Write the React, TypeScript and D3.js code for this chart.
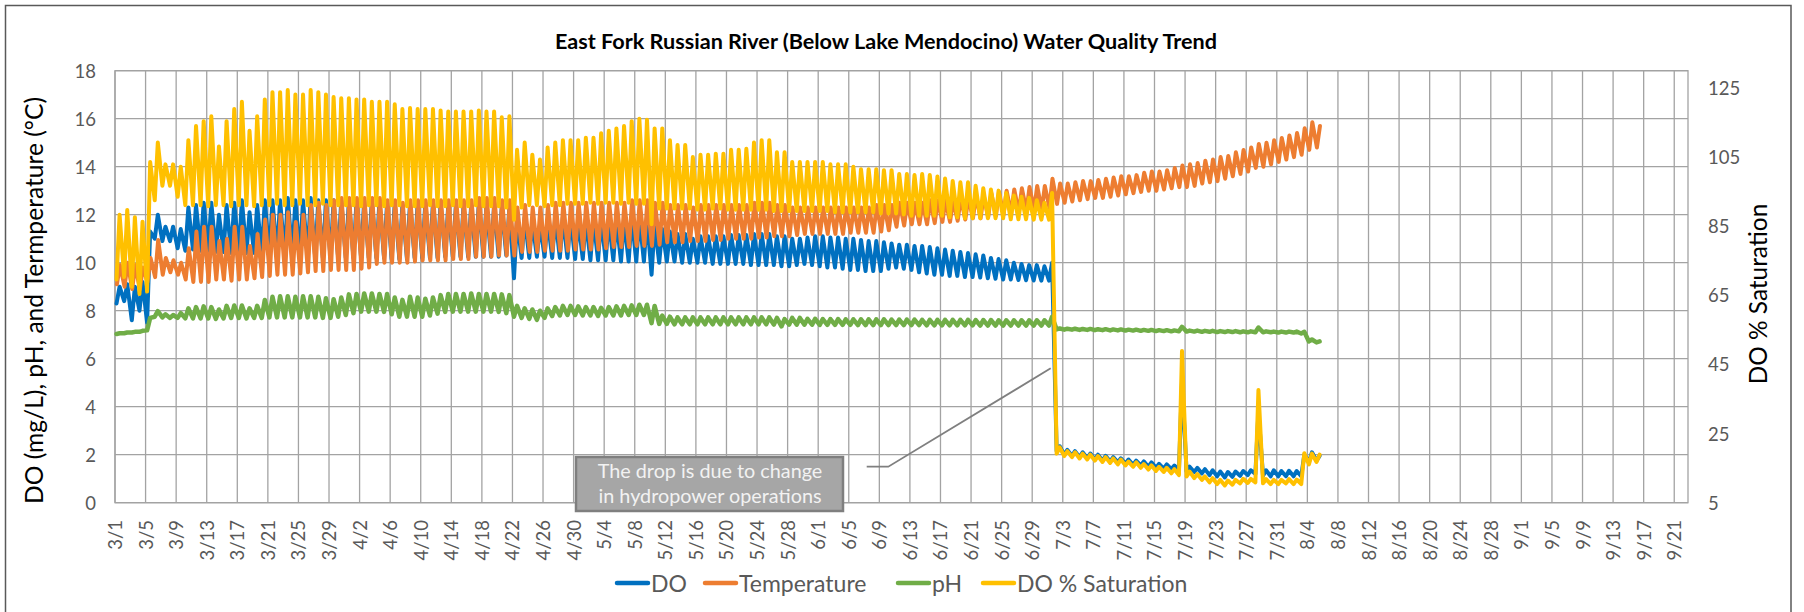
import React from 'react';
import * as d3 from 'd3';

// ---------- DATA (daily max / min, day 0 = 3/1) ----------
const START = Date.UTC(2019, 2, 1);
const DAY = 86400000;

const doMax = [
  9.0, 9.1, 9.0, 9.2, 11.3, 12.0, 11.5, 11.5, 11.4, 12.3,
  12.4, 12.5, 12.5, 12.0, 12.4, 12.5, 12.6, 12.1, 12.4, 12.6,
  12.6, 12.6, 12.7, 12.6, 12.6, 12.7, 12.6, 12.6, 12.6, 12.6,
  12.6, 12.6, 12.6, 12.6, 12.6, 12.5, 12.5, 12.4, 12.5, 12.5,
  12.5, 12.5, 12.5, 12.4, 12.4, 12.4, 12.4, 12.5, 12.4, 12.4,
  12.3, 12.3, 11.8, 11.9, 11.7, 11.6, 11.8, 11.9, 11.9, 11.9,
  11.8, 11.8, 11.8, 11.8, 11.8, 11.8, 11.8, 11.9, 11.9, 11.9,
  11.6, 11.4, 11.3, 11.2, 11.2, 11.0, 11.1, 11.1, 11.1, 11.1,
  11.15, 11.15, 11.15, 11.2, 11.2, 11.2, 11.1, 11.1, 11.0, 11.0,
  11.05, 11.1, 11.1, 11.05, 11.05, 11.0, 11.0, 10.95, 10.9, 10.9,
  10.85, 10.8, 10.75, 10.75, 10.7, 10.7, 10.65, 10.6, 10.55, 10.5,
  10.45, 10.4, 10.35, 10.3, 10.2, 10.15, 10.1, 10.0, 9.95, 9.9,
  9.9, 9.85, 10.0, 2.35, 2.2, 2.15, 2.1, 2.05, 2.0, 1.95,
  1.9, 1.85, 1.8, 1.75, 1.72, 1.68, 1.62, 1.6, 1.55, 5.04,
  1.5, 1.45, 1.4, 1.35, 1.3, 1.28, 1.3, 1.32, 1.35, 3.8,
  1.35, 1.35, 1.32, 1.33, 1.32, 2.0, 2.1, 1.95,
];
const doMin = [
  8.3, 8.4, 7.6, 8.0, 7.5, 11.0, 10.9, 10.9, 10.6, 10.5,
  10.55, 10.5, 10.5, 10.45, 10.45, 10.4, 10.4, 10.4, 10.4, 10.35,
  10.3, 10.3, 10.3, 10.3, 10.25, 10.25, 10.2, 10.2, 10.2, 10.2,
  10.2, 10.2, 10.2, 10.2, 10.2, 10.2, 10.15, 10.15, 10.15, 10.2,
  10.2, 10.2, 10.2, 10.25, 10.25, 10.25, 10.25, 10.25, 10.25, 10.25,
  10.25, 10.3, 9.35, 10.2, 10.2, 10.25, 10.25, 10.2, 10.2, 10.2,
  10.15, 10.15, 10.1, 10.1, 10.1, 10.1, 10.05, 10.05, 10.05, 10.05,
  9.5, 10.0, 10.05, 10.05, 10.0, 10.0, 10.0, 10.0, 9.95, 9.95,
  9.95, 9.95, 9.95, 9.9, 9.9, 9.9, 9.9, 9.85, 9.85, 9.9,
  9.95, 9.9, 9.85, 9.8, 9.8, 9.75, 9.7, 9.7, 9.65, 9.65,
  9.65, 9.75, 9.8, 9.75, 9.7, 9.6, 9.55, 9.5, 9.5, 9.45,
  9.45, 9.4, 9.4, 9.38, 9.35, 9.33, 9.3, 9.3, 9.28, 9.27,
  9.26, 9.25, 9.25, 2.15, 2.0, 1.95, 1.9, 1.85, 1.8, 1.75,
  1.72, 1.68, 1.62, 1.58, 1.55, 1.5, 1.45, 1.42, 1.4, 1.35,
  1.3, 1.28, 1.22, 1.15, 1.1, 1.05, 1.08, 1.12, 1.15, 1.2,
  1.12, 1.1, 1.1, 1.1, 1.1, 1.1, 1.7, 1.75,
];
const tempMax = [
  9.9, 10.0, 9.9, 9.8, 10.2, 10.95, 10.2, 10.1, 10.0, 10.6,
  11.3, 11.5, 11.5, 10.9, 11.0, 11.5, 11.5, 10.7, 11.2, 11.8,
  12.0, 12.0, 12.1, 11.7, 12.0, 12.4, 12.5, 12.4, 12.6, 12.7,
  12.7, 12.7, 12.7, 12.7, 12.7, 12.6, 12.6, 12.5, 12.6, 12.6,
  12.6, 12.6, 12.6, 12.6, 12.6, 12.6, 12.6, 12.7, 12.7, 12.7,
  12.6, 12.6, 12.3, 12.4, 12.3, 12.3, 12.4, 12.5, 12.5, 12.5,
  12.5, 12.5, 12.5, 12.5, 12.5, 12.5, 12.5, 12.6, 12.6, 12.6,
  12.5, 12.5, 12.4, 12.4, 12.4, 12.3, 12.4, 12.4, 12.4, 12.4,
  12.4, 12.4, 12.4, 12.5, 12.5, 12.5, 12.4, 12.4, 12.3, 12.3,
  12.3, 12.3, 12.3, 12.3, 12.3, 12.3, 12.3, 12.3, 12.3, 12.4,
  12.4, 12.4, 12.5, 12.5, 12.5, 12.5, 12.6, 12.6, 12.6, 12.6,
  12.7, 12.7, 12.8, 12.8, 12.9, 12.95, 13.0, 13.05, 13.1, 13.15,
  13.2, 13.2, 13.5, 13.3, 13.3, 13.35, 13.4, 13.4, 13.45, 13.5,
  13.55, 13.6, 13.6, 13.65, 13.75, 13.8, 13.8, 13.85, 13.95, 14.05,
  14.1, 14.15, 14.25, 14.3, 14.4, 14.45, 14.6, 14.7, 14.8, 14.95,
  15.0, 15.1, 15.2, 15.3, 15.4, 15.6, 15.85, 15.7,
];
const tempMin = [
  9.1, 9.0, 8.9, 8.9, 9.2, 9.4, 9.5, 9.6, 9.5, 9.3,
  9.2, 9.2, 9.2, 9.3, 9.3, 9.25, 9.3, 9.3, 9.35, 9.4,
  9.45, 9.5, 9.5, 9.5, 9.55, 9.6, 9.65, 9.65, 9.7, 9.7,
  9.7, 9.7, 9.75, 9.8, 9.95, 10.0, 10.0, 10.0, 10.0, 10.05,
  10.1, 10.1, 10.1, 10.1, 10.15, 10.15, 10.15, 10.25, 10.25, 10.25,
  10.3, 10.3, 10.3, 10.45, 10.45, 10.45, 10.5, 10.5, 10.5, 10.5,
  10.55, 10.55, 10.55, 10.55, 10.6, 10.65, 10.65, 10.65, 10.7, 10.7,
  10.7, 10.75, 10.85, 10.85, 10.85, 10.9, 10.9, 10.9, 10.95, 10.95,
  11.0, 11.0, 11.0, 11.0, 11.05, 11.05, 11.1, 11.1, 11.1, 11.15,
  11.2, 11.2, 11.2, 11.2, 11.2, 11.2, 11.25, 11.25, 11.25, 11.25,
  11.3, 11.35, 11.5, 11.55, 11.6, 11.6, 11.6, 11.65, 11.7, 11.7,
  11.75, 11.8, 11.85, 11.85, 11.9, 11.95, 12.0, 12.05, 12.1, 12.15,
  12.2, 12.2, 12.3, 12.45, 12.5, 12.55, 12.6, 12.65, 12.7, 12.7,
  12.75, 12.8, 12.85, 12.9, 12.95, 13.0, 13.0, 13.05, 13.1, 13.15,
  13.15, 13.2, 13.3, 13.35, 13.4, 13.5, 13.6, 13.7, 13.8, 13.95,
  14.0, 14.1, 14.2, 14.3, 14.4, 14.5, 14.7, 14.8,
];
const phMax = [
  7.06, 7.09, 7.12, 7.16, 7.7, 7.98, 7.85, 7.82, 7.9, 8.1,
  8.15, 8.18, 8.15, 8.05, 8.2, 8.22, 8.22, 8.1, 8.2, 8.45,
  8.58, 8.6, 8.6, 8.58, 8.6, 8.6, 8.58, 8.52, 8.48, 8.55,
  8.68, 8.7, 8.72, 8.72, 8.7, 8.7, 8.55, 8.45, 8.58, 8.55,
  8.5, 8.55, 8.65, 8.7, 8.7, 8.7, 8.72, 8.7, 8.7, 8.7,
  8.68, 8.65, 8.2, 8.1, 8.05, 8.0, 8.1, 8.15, 8.2, 8.2,
  8.18, 8.15, 8.15, 8.12, 8.15, 8.18, 8.2, 8.22, 8.25, 8.25,
  8.2, 7.8, 7.75, 7.72, 7.72, 7.72, 7.72, 7.72, 7.72, 7.72,
  7.72, 7.72, 7.72, 7.72, 7.72, 7.72, 7.7, 7.65, 7.7, 7.7,
  7.66, 7.66, 7.65, 7.65, 7.65, 7.64, 7.64, 7.64, 7.64, 7.64,
  7.64, 7.63, 7.63, 7.63, 7.63, 7.62, 7.62, 7.62, 7.62, 7.62,
  7.62, 7.62, 7.61, 7.61, 7.61, 7.6, 7.6, 7.6, 7.6, 7.6,
  7.6, 7.6, 7.75, 7.26, 7.25, 7.25, 7.24, 7.24, 7.23, 7.23,
  7.22, 7.22, 7.21, 7.21, 7.2, 7.2, 7.19, 7.19, 7.18, 7.33,
  7.17, 7.17, 7.16, 7.16, 7.15, 7.15, 7.15, 7.14, 7.14, 7.3,
  7.14, 7.13, 7.13, 7.13, 7.13, 7.12, 6.8, 6.72,
];
const phMin = [
  7.03, 7.06, 7.09, 7.12, 7.18, 7.75, 7.72, 7.7, 7.7, 7.68,
  7.68, 7.68, 7.68, 7.66, 7.68, 7.7, 7.7, 7.68, 7.7, 7.7,
  7.72, 7.72, 7.72, 7.72, 7.72, 7.72, 7.72, 7.7, 7.7, 7.75,
  7.82, 7.9, 7.96, 7.96, 7.96, 7.95, 7.85, 7.75, 7.75, 7.75,
  7.75, 7.8, 7.88, 7.95, 7.96, 7.96, 7.96, 7.96, 7.96, 7.96,
  7.95, 7.9, 7.75, 7.7, 7.66, 7.62, 7.7, 7.78, 7.8, 7.82,
  7.82, 7.8, 7.8, 7.78, 7.8, 7.8, 7.8, 7.82, 7.82, 7.82,
  7.48, 7.45, 7.45, 7.43, 7.43, 7.43, 7.43, 7.43, 7.43, 7.43,
  7.43, 7.43, 7.43, 7.43, 7.43, 7.43, 7.42, 7.35, 7.42, 7.42,
  7.42, 7.42, 7.41, 7.41, 7.41, 7.41, 7.41, 7.4, 7.4, 7.4,
  7.4, 7.4, 7.4, 7.4, 7.4, 7.4, 7.39, 7.39, 7.39, 7.39,
  7.39, 7.39, 7.39, 7.38, 7.38, 7.38, 7.38, 7.38, 7.38, 7.38,
  7.38, 7.38, 7.38, 7.22, 7.21, 7.21, 7.2, 7.2, 7.19, 7.19,
  7.18, 7.18, 7.17, 7.17, 7.16, 7.16, 7.15, 7.15, 7.14, 7.14,
  7.13, 7.13, 7.12, 7.12, 7.11, 7.11, 7.11, 7.1, 7.1, 7.1,
  7.1, 7.1, 7.09, 7.09, 7.09, 7.05, 6.72, 6.68,
];
const satMax = [
  88.3, 89.7, 87.6, 86.3, 103.6, 109.2, 102.9, 102.9, 102.2, 109.9,
  114.0, 115.4, 116.8, 108.1, 115.4, 118.9, 121.0, 112.6, 116.8, 121.7,
  123.8, 123.8, 124.4, 123.1, 123.1, 124.4, 123.8, 123.1, 122.4, 122.0,
  122.0, 121.7, 121.7, 121.0, 121.0, 121.0, 120.3, 118.9, 119.2, 118.9,
  118.9, 118.9, 118.5, 118.2, 118.2, 118.2, 118.2, 118.5, 118.2, 118.2,
  116.5, 116.8, 107.1, 109.2, 105.7, 104.3, 107.8, 109.2, 109.9, 109.9,
  109.9, 110.6, 110.6, 111.9, 112.6, 113.3, 114.0, 115.4, 116.1, 115.8,
  113.3, 113.3, 109.9, 108.5, 108.5, 105.0, 105.7, 105.7, 106.0, 106.0,
  107.1, 107.1, 107.4, 109.2, 109.9, 109.9, 106.4, 106.4, 103.6, 103.6,
  103.6, 103.6, 103.6, 102.9, 102.9, 102.9, 102.2, 101.5, 101.5, 101.5,
  101.2, 101.2, 100.1, 100.1, 99.8, 100.1, 99.8, 99.4, 98.8, 98.1,
  97.7, 97.7, 96.7, 96.0, 95.6, 95.3, 94.6, 93.9, 93.5, 93.2,
  92.5, 91.8, 94.6, 21.0, 19.9, 19.6, 19.2, 18.9, 18.5, 18.2,
  17.8, 17.5, 16.9, 16.7, 16.2, 15.8, 15.4, 15.1, 14.7, 48.9,
  14.0, 13.3, 12.6, 12.1, 11.6, 11.4, 11.6, 11.9, 11.9, 37.6,
  11.8, 11.6, 11.6, 11.8, 11.7, 19.3, 19.2, 18.9,
];
const satMin = [
  69.6, 70.3, 67.5, 65.4, 66.1, 92.5, 96.7, 96.7, 93.5, 91.1,
  91.1, 91.1, 90.8, 91.1, 91.1, 90.8, 91.1, 91.1, 90.8, 91.1,
  91.1, 91.5, 91.1, 91.1, 91.5, 91.1, 91.1, 91.5, 91.1, 91.1,
  91.1, 91.1, 90.8, 91.1, 91.1, 90.8, 91.1, 91.1, 90.8, 90.8,
  90.8, 91.1, 90.8, 90.8, 91.1, 90.8, 90.8, 91.1, 90.8, 90.8,
  90.8, 90.4, 86.9, 90.4, 91.1, 91.1, 90.8, 91.1, 91.1, 91.5,
  91.5, 91.5, 91.8, 91.5, 91.8, 91.8, 91.5, 91.8, 91.5, 91.5,
  85.6, 90.1, 90.1, 90.1, 90.1, 90.1, 89.8, 89.8, 90.1, 90.1,
  89.8, 89.8, 89.8, 89.8, 89.8, 89.8, 89.4, 89.4, 89.4, 89.4,
  89.4, 89.4, 89.4, 89.4, 89.0, 89.0, 89.0, 89.0, 89.0, 89.0,
  88.7, 88.7, 88.7, 88.4, 88.0, 88.0, 88.0, 88.0, 88.0, 87.6,
  87.6, 87.3, 87.3, 87.3, 87.3, 87.3, 87.3, 87.0, 87.0, 87.0,
  86.9, 86.9, 86.9, 19.2, 18.5, 18.2, 17.8, 17.5, 17.2, 16.8,
  16.5, 16.1, 15.8, 15.4, 15.1, 14.6, 14.2, 13.9, 13.5, 13.0,
  12.6, 12.1, 11.6, 10.9, 10.4, 10.0, 10.2, 10.6, 10.7, 10.9,
  10.6, 10.4, 10.4, 10.6, 10.4, 10.4, 16.1, 16.8,
];

const leftTicks = [0, 2, 4, 6, 8, 10, 12, 14, 16, 18];
const rightTicks = [5, 25, 45, 65, 85, 105, 125];
const xTickStep = 4; // days between date labels
const xTickCount = 52; // 3/1 ... 9/21

const legendItems = [
  { name: 'DO', color: '#0070C0' },
  { name: 'Temperature', color: '#ED7D31' },
  { name: 'pH', color: '#70AD47' },
  { name: 'DO % Saturation', color: '#FFC000' },
];

const TITLE = 'East Fork Russian River (Below Lake Mendocino) Water Quality Trend';
const LEFT_TITLE = 'DO (mg/L), pH, and Termperature (°C)';
const RIGHT_TITLE = 'DO % Saturation';
const NOTE = ['The drop is due to change', 'in hydropower operations'];

// ---------- LAYOUT ----------
const W = 1804;
const H = 612;
const PL = 115, PR = 1688, PT = 70.7, PB = 502.7;
const FONT = "Lato, 'Open Sans', sans-serif";
const GRID = '#a3a3a3';
const LABEL = '#595959';

type Pt = { t: Date; v: number };

function toPoints(mins: number[], maxs: number[], tMin: number, tMax: number): Pt[] {
  const out: Pt[] = [];
  mins.forEach((mn, i) => {
    out.push({ t: new Date(START + (i + tMin) * DAY), v: mn });
    out.push({ t: new Date(START + (i + tMax) * DAY), v: maxs[i] });
  });
  return out;
}

export default function App() {
  const x = d3.scaleUtc()
    .domain([new Date(START), new Date(START + 205.8 * DAY)])
    .range([PL, PR]);
  const yL = d3.scaleLinear().domain([0, 18]).range([PB, PT]);
  const yR = d3.scaleLinear().domain([5, 130]).range([PB, PT]);

  const xTicks = d3.range(xTickCount).map((i) => new Date(START + i * xTickStep * DAY));
  const fmt = d3.utcFormat('%-m/%-d');

  const mk = (scale: d3.ScaleLinear<number, number>) =>
    d3.line<Pt>().x((p) => x(p.t)).y((p) => scale(p.v));

  const series = [
    { d: mk(yL)(toPoints(doMin, doMax, 0.2, 0.6)), color: '#0070C0', w: 4 },
    { d: mk(yL)(toPoints(tempMin, tempMax, 0.25, 0.65)), color: '#ED7D31', w: 4 },
    { d: mk(yL)(toPoints(phMin, phMax, 0.2, 0.6)), color: '#70AD47', w: 4.5 },
    { d: mk(yR)(toPoints(satMin, satMax, 0.2, 0.6)), color: '#FFC000', w: 4 },
  ];

  const legendX = [617, 705, 898, 983];

  return (
    <div style={{ position: 'absolute', left: 0, top: 0 }}>
      <svg width={W} height={H} style={{ display: 'block', background: '#fff' }} fontFamily={FONT}>
        <rect x={5.5} y={5.5} width={1785.5} height={640} fill="#fff" stroke="#595959" strokeWidth={1.5} />

        <text x={886} y={49.3} textAnchor="middle" fontSize={21.6} fontWeight={700} fill="#000">{TITLE}</text>

        {/* grid */}
        <g stroke={GRID} strokeWidth={1.3}>
          {leftTicks.map((t) => (
            <line key={'h' + t} x1={PL} x2={PR} y1={yL(t)} y2={yL(t)} />
          ))}
          {xTicks.map((t, i) => (
            <line key={'v' + i} x1={x(t)} x2={x(t)} y1={PT} y2={PB} />
          ))}
          <rect x={PL} y={PT} width={PR - PL} height={PB - PT} fill="none" />
        </g>

        {/* left ticks */}
        {leftTicks.map((t) => (
          <text key={'l' + t} x={96} y={yL(t)} textAnchor="end" dominantBaseline="central" fontSize={18.5} fill={LABEL}>{t}</text>
        ))}
        {/* right ticks */}
        {rightTicks.map((t) => (
          <text key={'r' + t} x={1708} y={yR(t)} textAnchor="start" dominantBaseline="central" fontSize={18.5} fill={LABEL}>{t}</text>
        ))}
        {/* x ticks */}
        {xTicks.map((t, i) => (
          <text key={'x' + i} transform={`translate(${x(t)},520) rotate(-90)`} textAnchor="end" dominantBaseline="central" fontSize={18.5} fill={LABEL}>{fmt(t)}</text>
        ))}

        {/* axis titles */}
        <text transform="translate(33,300.5) rotate(-90)" textAnchor="middle" dominantBaseline="central" fontSize={24.6} fill="#000">{LEFT_TITLE}</text>
        <text transform="translate(1757,294) rotate(-90)" textAnchor="middle" dominantBaseline="central" fontSize={24.4} fill="#000">{RIGHT_TITLE}</text>

        {/* series */}
        <g fill="none" strokeLinejoin="round" strokeLinecap="round">
          {series.map((s, i) => (
            <path key={i} d={s.d || ''} stroke={s.color} strokeWidth={s.w} />
          ))}
        </g>

        {/* annotation */}
        <polyline points="866.7,466.7 888.3,466.7 1050.7,368.3" fill="none" stroke="#7f7f7f" strokeWidth={1.8} />
        <rect x={576} y={457} width={267} height={54} fill="#a6a6a6" stroke="#7f7f7f" strokeWidth={2.5} />
        <text x={710} y={478} textAnchor="middle" fontSize={19.8} fill="#f2f2f2">{NOTE[0]}</text>
        <text x={710} y={503} textAnchor="middle" fontSize={19.8} fill="#f2f2f2">{NOTE[1]}</text>

        {/* legend */}
        {legendItems.map((it, i) => (
          <g key={it.name}>
            <line x1={legendX[i]} x2={legendX[i] + 31} y1={583} y2={583} stroke={it.color} strokeWidth={4.5} strokeLinecap="round" />
            <text x={legendX[i] + 34} y={583} dominantBaseline="central" fontSize={23} fill={LABEL}>{it.name}</text>
          </g>
        ))}
      </svg>
    </div>
  );
}
